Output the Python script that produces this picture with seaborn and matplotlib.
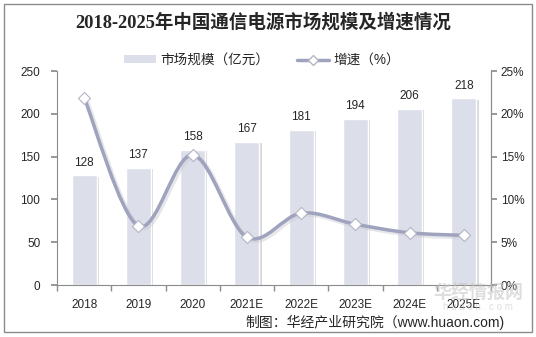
import numpy as np
import pandas as pd
import matplotlib
matplotlib.use("Agg")
import matplotlib.pyplot as plt
from matplotlib.path import Path
from matplotlib.patches import PathPatch, Rectangle
from matplotlib.lines import Line2D
from matplotlib.ticker import FuncFormatter, MultipleLocator
import matplotlib.transforms as mtransforms
import seaborn as sns

years = ["2018", "2019", "2020", "2021E", "2022E", "2023E", "2024E", "2025E"]
market = [128, 137, 158, 167, 181, 194, 206, 218]
growth = [21.9, 6.9, 15.2, 5.6, 8.4, 7.1, 6.1, 5.8]

title = "2018-2025年中国通信电源市场规模及增速情况"
bar_label = "市场规模（亿元）"
line_label = "增速（%）"
source = "制图：华经产业研究院（www.huaon.com)"

sns.set_theme(style="white")
plt.rcParams['font.family'] = ['Liberation Sans', 'Noto Sans CJK SC', 'DejaVu Sans']

bar_color = "#dcdfe9"
line_color = "#9fa3bd"
axis_color = "#8c8c8c"
text_color = "#262626"

df = pd.DataFrame({"year": years, "market": market, "growth": growth})

fig = plt.figure(figsize=(5.36, 3.37), dpi=100)
ax = fig.add_axes([57/536, 1-285/337, (491-57)/536, (285-71)/337])

x = np.arange(len(years))
bw = 0.46
# soft shadow on the right side of each bar
shadow_tr = mtransforms.offset_copy(ax.transData, fig=fig, x=1.6, y=0, units="points")
for xi, v in zip(x, market):
    ax.add_patch(Rectangle((xi - bw/2, 0), bw, v - 1.5, facecolor="#a9a9ae",
                           edgecolor="none", alpha=0.45, zorder=1, transform=shadow_tr))
sns.barplot(data=df, x="year", y="market", color=bar_color, width=bw,
            saturation=1, ax=ax, zorder=2)
for xi, v in zip(x, market):
    ax.text(xi, v + 8, str(v), ha="center", va="bottom", fontsize=8.5, color=text_color)

ax.set_ylim(0, 250)
ax.set_xlim(-0.5, len(years) - 0.5)
ax.yaxis.set_major_locator(MultipleLocator(50))
ax.set_xlabel("")
ax.set_ylabel("")
ax.spines["top"].set_visible(False)
for s in ["left", "bottom", "right"]:
    ax.spines[s].set_color(axis_color)
    ax.spines[s].set_linewidth(0.8)
ax.tick_params(axis="y", which="both", left=True, length=4, color=axis_color,
               labelsize=8.5, labelcolor=text_color, pad=8)
ax.tick_params(axis="x", which="major", bottom=False, labelsize=8.5,
               labelcolor=text_color, pad=4)
ax.set_xticks(np.arange(-0.5, len(years), 1.0), minor=True)
ax.tick_params(axis="x", which="minor", bottom=True, length=4, color=axis_color)

ax2 = ax.twinx()
ax2.set_ylim(0, 25)
ax2.yaxis.set_major_locator(MultipleLocator(5))
ax2.yaxis.set_major_formatter(FuncFormatter(lambda v, p: f"{int(v)}%"))
ax2.tick_params(axis="y", right=True, length=4, color=axis_color, labelsize=8.5,
                labelcolor=text_color, pad=3)
for s in ["top", "left", "bottom"]:
    ax2.spines[s].set_visible(False)
ax2.spines["right"].set_color(axis_color)
ax2.spines["right"].set_linewidth(0.8)

# smooth curve through the data points (Bezier rendering only)
pts = np.column_stack([x, growth]).astype(float)
verts = [tuple(pts[0])]
codes = [Path.MOVETO]
n = len(pts)
for i in range(n - 1):
    p0 = pts[i - 1] if i > 0 else pts[i]
    p1 = pts[i]
    p2 = pts[i + 1]
    p3 = pts[i + 2] if i + 2 < n else pts[i + 1]
    c1 = p1 + (p2 - p0) / 6.0
    c2 = p2 - (p3 - p1) / 6.0
    verts += [tuple(c1), tuple(c2), tuple(p2)]
    codes += [Path.CURVE4] * 3
path = Path(verts, codes)
ax2.add_patch(PathPatch(path, facecolor="none", edgecolor="#c9cad3", lw=3.5,
                        alpha=0.45, zorder=3,
                        transform=mtransforms.offset_copy(ax2.transData, fig=fig, x=1.2, y=-1.2, units="points")))
ax2.add_patch(PathPatch(path, facecolor="none", edgecolor=line_color, lw=2.5, zorder=4))
sns.scatterplot(x=x, y=growth, marker="D", s=38, color="white", edgecolor="#b4b6c6",
                linewidth=0.8, ax=ax2, zorder=5)
ax2.set_ylabel("")

# legend
handles = [Rectangle((0, 0), 1, 1, facecolor=bar_color, edgecolor="none"),
           Line2D([0], [0], color=line_color, lw=2.5, marker="D", markersize=5,
                  markerfacecolor="white", markeredgecolor="#b4b6c6")]
fig.legend(handles, [bar_label, line_label], loc="center", bbox_to_anchor=(262/536, 1-60/337),
           ncol=2, frameon=False, fontsize=9.8, handlelength=2.4, handleheight=0.5,
           columnspacing=2.0, handletextpad=0.3, labelcolor=text_color)

fig.text(263/536, 1-22/337, title, ha="center", va="center", fontsize=13.3,
         fontweight="bold", color=text_color,
         family=['Liberation Serif', 'Noto Sans CJK SC'])
fig.text(505/536, 1-322/337, source, ha="right", va="center", fontsize=10,
         color=text_color)

# watermark
fig.text(478/536, 1-294/337, "华经情报网", ha="center", va="center", fontsize=13,
         fontweight="bold", color="#c4c4c4", alpha=0.55)
fig.text(478/536, 1-307/337, "h u a o n . c o m", ha="center", va="center",
         fontsize=7, color="#c4c4c4", alpha=0.55)

fig.add_artist(Rectangle((4/536, 1-332/337), 528/536, 328/337, transform=fig.transFigure,
                         facecolor="none", edgecolor="#8c8c8c", lw=1.0))

fig.savefig("out.png", dpi=100)
